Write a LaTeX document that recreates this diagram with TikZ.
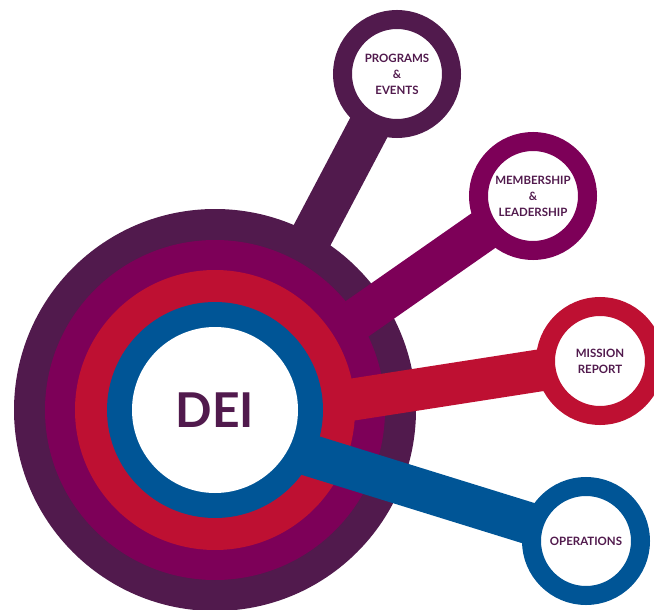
\documentclass[tikz,border=0pt]{standalone}
\usepackage{fontspec}
\setmainfont{Lato}
\usepackage{xcolor}
\usetikzlibrary{backgrounds}

\definecolor{deiDark}{RGB}{81,26,77}
\definecolor{deiMag}{RGB}{125,0,88}
\definecolor{deiRed}{RGB}{190,16,50}
\definecolor{deiBlue}{RGB}{0,85,150}

\tikzset{
  sat/.style={circle, draw=#1, line width=14.25pt, fill=white, minimum size=81.75pt,
    inner sep=0pt, align=center, text=deiDark, font=\bfseries\fontsize{8.6}{12}\selectfont},
  stem/.style={draw=#1, line width=31.5pt},
}

\begin{document}
\begin{tikzpicture}[x=0.75pt,y=0.75pt,yscale=-1,xscale=1]
\clip (0,0) rectangle (654,610);

% Centre Node
\node [circle, fill=white, minimum size=124.5pt, inner sep=0pt, text=deiDark,
  font=\bfseries\fontsize{36}{36}\selectfont] (dei) at (215,410) {DEI};

% Satellite Nodes
\node [sat=deiDark] (prog) at (397,74) {PROGRAMS\\\&\\EVENTS};
\node [sat=deiMag] (memb) at (533,196) {MEMBERSHIP\\\&\\LEADERSHIP};
\node [sat=deiRed] (miss) at (600,361) {MISSION\\REPORT};
\node [sat=deiBlue] (oper) at (586,541) {OPERATIONS};

% Stem start points
\coordinate (hubA) at (220,410);
\coordinate (hubB) at (215,418);
\coordinate (hubC) at (215,421);
\coordinate (hubD) at (215,426);

\begin{scope}[on background layer]
%Straight Lines + Shape: Circle
\draw [stem=deiDark] (hubA) -- (prog.center);
\fill [deiDark] (dei.center) circle [radius=201];
\draw [stem=deiMag] (hubB) -- (memb.center);
\fill [deiMag] (dei.center) circle [radius=170];
\draw [stem=deiRed] (hubC) -- (miss.center);
\fill [deiRed] (dei.center) circle [radius=140];
\draw [stem=deiBlue] (hubD) -- (oper.center);
\fill [deiBlue] (dei.center) circle [radius=108];
\end{scope}
\end{tikzpicture}
\end{document}
